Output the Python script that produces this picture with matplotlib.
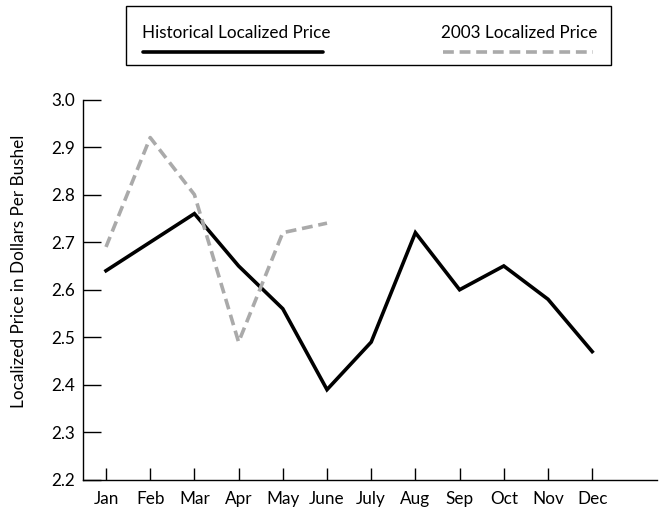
import matplotlib
matplotlib.use("Agg")
import matplotlib.pyplot as plt
from matplotlib.lines import Line2D
from matplotlib.patches import Rectangle

months = ["Jan", "Feb", "Mar", "Apr", "May", "June", "July", "Aug", "Sep", "Oct", "Nov", "Dec"]
historical = [2.64, 2.70, 2.76, 2.65, 2.56, 2.39, 2.49, 2.72, 2.60, 2.65, 2.58, 2.47]
price_2003 = [2.69, 2.92, 2.80, 2.49, 2.72, 2.74]
yticks = [2.2, 2.3, 2.4, 2.5, 2.6, 2.7, 2.8, 2.9, 3.0]
series_names = ["Historical Localized Price", "2003 Localized Price"]

plt.rcParams['font.family'] = ['Lato', 'DejaVu Sans']
FS = 12.3

W, H = 662, 514
fig = plt.figure(figsize=(W / 100, H / 100), dpi=100)

ax = fig.add_axes([83 / W, 34 / H, (657 - 83) / W, (480 - 99.5) / H])
x = list(range(len(months)))
ax.plot(x, historical, color='black', lw=2.6, solid_joinstyle='miter', zorder=3)
ax.plot(x[:len(price_2003)], price_2003, color='#aaaaaa', lw=2.6,
        dashes=(3, 1.6), solid_joinstyle='miter', zorder=4)

ax.set_xlim(-23 / 44.2, (657 - 106) / 44.2)
ax.set_ylim(2.2, 3.0)
ax.set_yticks(yticks)
ax.set_yticklabels([f"{v:.1f}" for v in yticks])
ax.tick_params(axis='y', direction='in', length=13, width=1, pad=6, labelsize=FS)
ax.set_xticks(x)
ax.set_xticklabels(months)
ax.tick_params(axis='x', direction='in', length=9, width=1, pad=8, labelsize=FS)
for s in ['top', 'right']:
    ax.spines[s].set_visible(False)
for s in ['left', 'bottom']:
    ax.spines[s].set_linewidth(1)

ax.set_ylabel("Localized Price in Dollars Per Bushel", fontsize=FS)
ax.yaxis.set_label_coords((27 - 83) / 574, (480 - 271) / 380.5)

# Custom legend box
lax = fig.add_axes([0, 0, 1, 1], facecolor='none')
lax.set_xlim(0, W)
lax.set_ylim(H, 0)
lax.axis('off')
lax.add_patch(Rectangle((126, 6), 611 - 126, 65 - 6, fill=False, edgecolor='black', lw=1))
lax.text(142, 33, series_names[0], ha='left', va='center', fontsize=FS)
lax.add_line(Line2D([143, 323], [52, 52], color='black', lw=2.6, solid_capstyle='round'))
lax.text(597, 33, series_names[1], ha='right', va='center', fontsize=FS)
lax.add_line(Line2D([443, 593], [52, 52], color='#aaaaaa', lw=2.6, dashes=(3, 1.6)))

fig.savefig("out.png", dpi=100)
